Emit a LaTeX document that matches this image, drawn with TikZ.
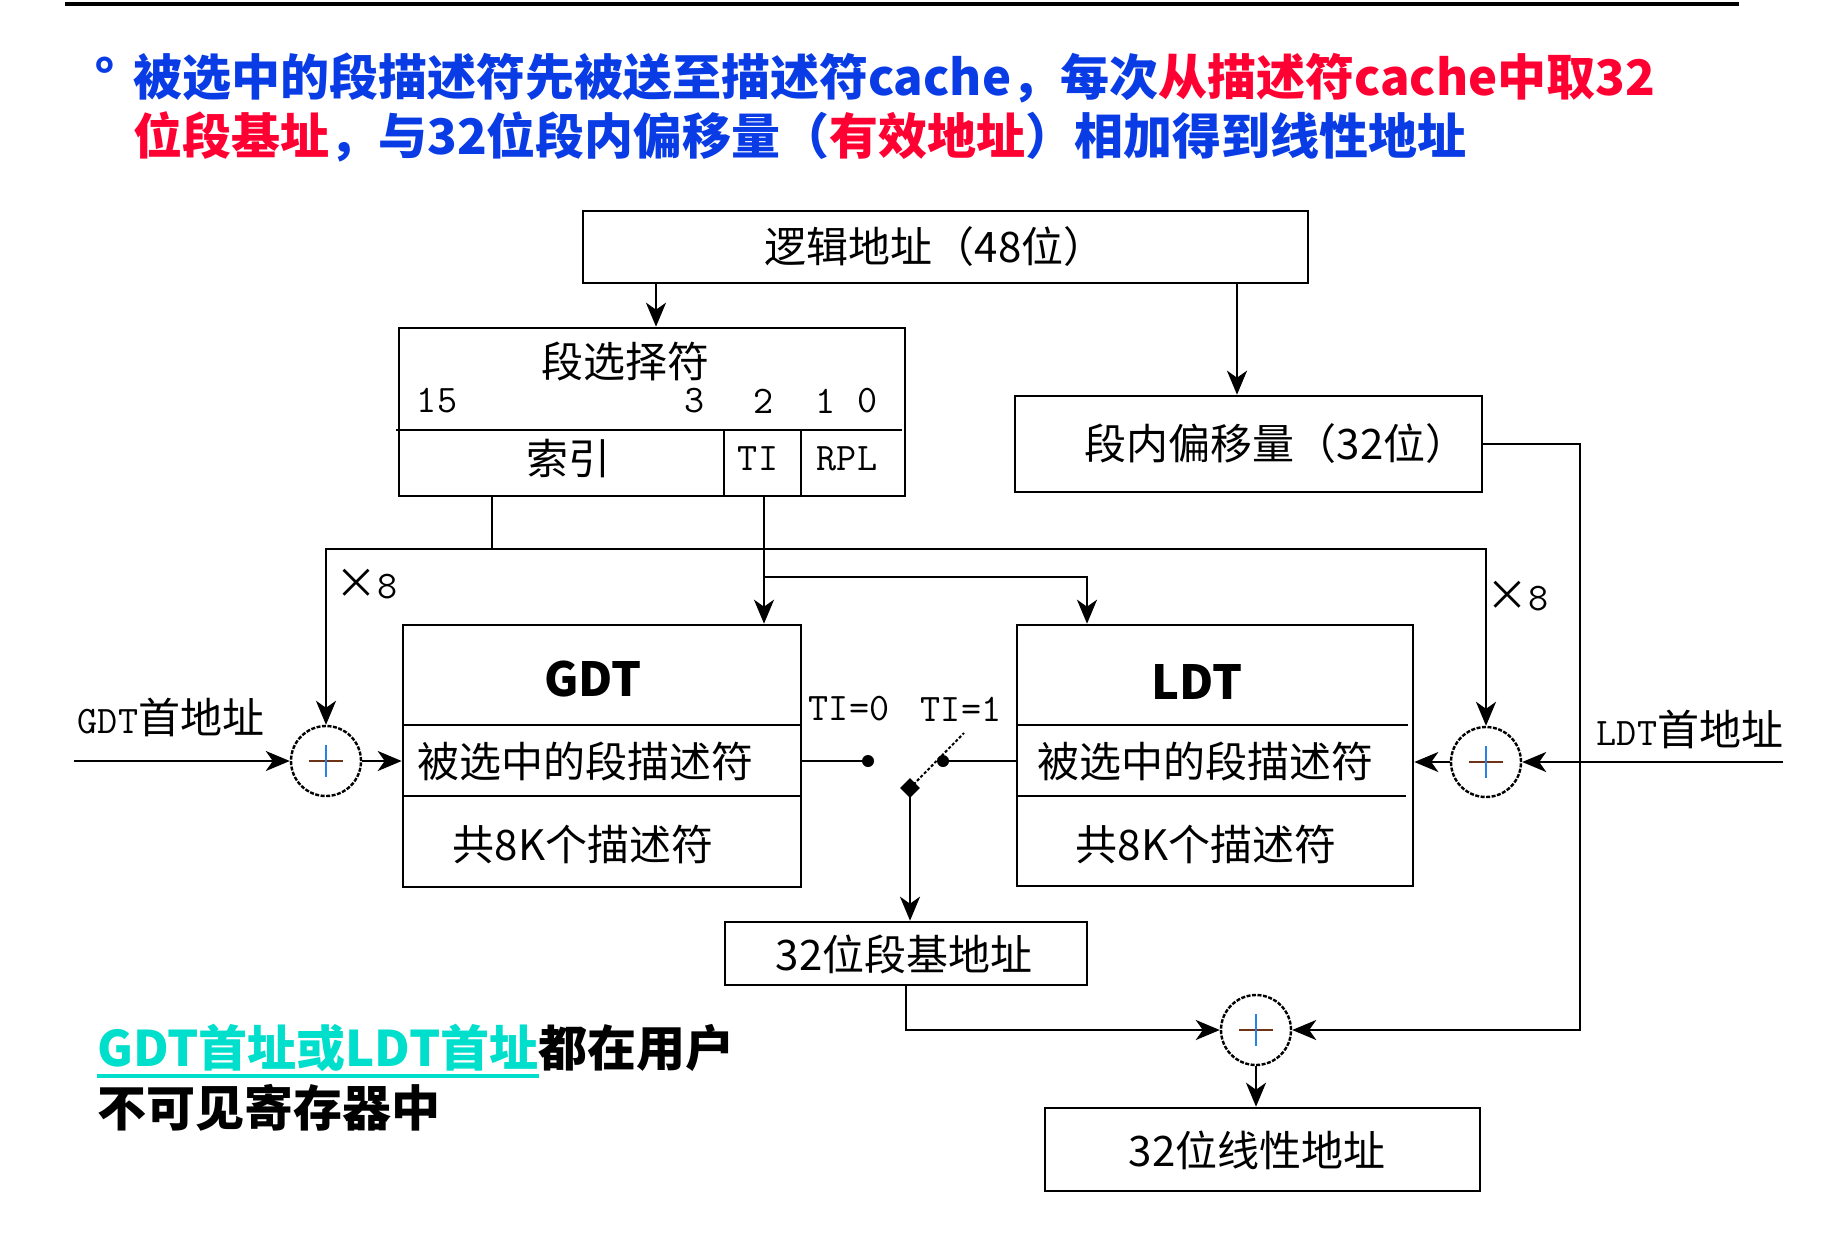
\documentclass[tikz,border=0pt]{standalone}
\usepackage{fontspec}
\setmainfont{Noto Sans CJK SC}
\newfontfamily\cjk{Noto Sans CJK SC}
\usetikzlibrary{arrows.meta,calc,shapes.geometric}
\definecolor{tblue}{RGB}{10,60,230}
\definecolor{tred}{RGB}{255,0,51}
\definecolor{tteal}{RGB}{0,222,204}
\definecolor{plusv}{RGB}{40,130,230}
\definecolor{plush}{RGB}{110,50,20}
\newcommand\lblfont{\cjk\fontsize{42}{46}\selectfont}
\newcommand\latfont{\ttfamily\fontsize{39}{42}\selectfont}
\newcommand\bigfont{\cjk\bfseries\fontsize{49}{55}\selectfont}
\newcommand\plusmark[1]{%
  \draw[plush, line width=2.6pt] ($(#1)+(-17,0)$) -- ($(#1)+(17,0)$);
  \draw[plusv, line width=2.6pt] ($(#1)+(0,-16)$) -- ($(#1)+(0,16)$);}
\tikzset{
  boxnode/.style={draw, line width=2.6pt, inner sep=0pt, rectangle},
  lbl/.style={font=\lblfont, inner sep=0pt},
  lat/.style={font=\latfont, inner sep=0pt},
  gl/.style={font=\cjk\bfseries\fontsize{47}{50}\selectfont, inner sep=0pt},
  wire/.style={line width=2.5pt},
  arr/.style={line width=2.5pt, -{Stealth[length=24pt,width=20pt,inset=7pt]}},
  adder/.style={circle, draw, line width=2.4pt, dash pattern=on 4pt off 1.5pt, minimum size=70pt, inner sep=0pt},
  dotnode/.style={circle, fill, minimum size=12pt, inner sep=0pt},
  pivnode/.style={diamond, fill, minimum size=20pt, inner sep=0pt},
  ttl/.style={font=\bigfont, inner sep=0pt, anchor=base west}
}
\begin{document}
\begin{tikzpicture}[x=1pt,y=-1pt]
\fill[white] (0,0) rectangle (1846,1232);
\useasboundingbox (0,0) rectangle (1846,1232);

% top rule
\draw[line width=4.5pt] (65,4) -- (1739,4);

% title
\node[font=\bigfont, inner sep=0pt, text=tblue, anchor=base west] (bul) at (94,95) {°};
\node[ttl] (t1) at (133,95) {\textcolor{tblue}{被选中的段描述符先被送至描述符cache，每次}\textcolor{tred}{从描述符cache中取32}};
\node[ttl] (t2) at (133,154) {\textcolor{tred}{位段基址}\textcolor{tblue}{，与32位段内偏移量（}\textcolor{tred}{有效地址}\textcolor{tblue}{）相加得到线性地址}};

% logical address box
\node[boxnode, minimum width=725pt, minimum height=72pt] (la) at (945.5,247) {};
\node[lbl] (latx) at (935,247) {逻辑地址（48位）};

% selector box
\node[boxnode, minimum width=506pt, minimum height=168pt] (sel) at (652,412) {};
\draw[wire] (396,430) -- (902,430);
\draw[wire] (724,430) -- (724,496);
\draw[wire] (801,430) -- (801,496);
\node[lbl] (seltx) at (625,361) {段选择符};
\node[lat] (b15) at (437,401) {15};
\node[lat] (b3) at (695,401) {3};
\node[lat] (b2) at (764,401) {2};
\node[lat] (b1) at (826,401) {1};
\node[lat] (b0) at (868,401) {0};
\node[lbl] (idx) at (568,459) {索引};
\node[lat] (ti) at (758,459) {TI};
\node[lat] (rpl) at (847,459) {RPL};

% offset box
\node[boxnode, minimum width=467pt, minimum height=96pt] (off) at (1248.5,444) {};
\node[lbl] (offtx) at (1276,444) {段内偏移量（32位）};

% GDT box
\node[boxnode, minimum width=398pt, minimum height=262pt] (gdt) at (602,756) {};
\draw[wire] (403,725) -- (801,725);
\draw[wire] (403,796) -- (801,796);
\node[gl] (gdttx) at (593,679) {GDT};
\node[lbl] (gsel) at (585,761) {被选中的段描述符};
\node[lbl] (gall) at (583,844) {共8K个描述符};

% LDT box
\node[boxnode, minimum width=396pt, minimum height=261pt] (ldt) at (1215,755.5) {};
\draw[wire] (1017,725) -- (1408,725);
\draw[wire] (1017,796) -- (1406,796);
\node[gl] (ldttx) at (1197,682) {LDT};
\node[lbl] (lsel) at (1205,761) {被选中的段描述符};
\node[lbl] (lall) at (1206,844) {共8K个描述符};

% adders
\node[adder] (ga) at (326,761) {};
\node[adder] (lad) at (1486,762) {};
\node[adder] (fa) at (1256,1030) {};
\plusmark{ga}
\plusmark{lad}
\plusmark{fa}

% base / linear boxes
\node[boxnode, minimum width=362pt, minimum height=63pt] (base) at (906,953.5) {};
\node[lbl] (basetx) at (904,954) {32位段基地址};
\node[boxnode, minimum width=435pt, minimum height=83pt] (lin) at (1262.5,1149.5) {};
\node[lbl] (lintx) at (1257,1150) {32位线性地址};

% labels
\node[inner sep=0pt] (gaddr) at (171,717) {\latfont GDT\lblfont 首地址};
\node[inner sep=0pt] (laddr) at (1690,729) {\latfont LDT\lblfont 首地址};
\node[inner sep=0pt] (x8l) at (367,584) {\lblfont ×\latfont 8};
\node[inner sep=0pt] (x8r) at (1518,596) {\lblfont ×\latfont 8};
\node[lat] (ti0) at (849,709) {TI=0};
\node[lat] (ti1) at (961,709) {TI=1};

% coordinates
\coordinate (cA) at (656,0);
\coordinate (cB) at (1237,0);
\coordinate (cIdx) at (492,0);
\coordinate (cTI) at (764,0);
\coordinate (cL) at (1087,0);
\coordinate (cO) at (1580,0);
\coordinate (jIdx) at (492,549);
\coordinate (jL) at (326,549);
\coordinate (jR) at (1486,549);
\coordinate (jTI) at (764,577);
\coordinate (gin) at (74,761);
\coordinate (lin0) at (1783,762);
\coordinate (lev) at (964,733);

% switch
\node[dotnode] (d0) at (868,761) {};
\node[dotnode] (d1) at (943,761) {};
\node[pivnode] (piv) at (910,788) {};

% connectors
\draw[arr] (la.south -| cA) -- (sel.north -| cA);
\draw[arr] (la.south -| cB) -- (off.north -| cB);
\draw[wire] (sel.south -| cIdx) -- (jIdx);
\draw[arr] (jIdx) -- (jL) -- (ga.north);
\draw[arr] (jIdx) -- (jR) -- (lad.north);
\draw[arr] (sel.south -| cTI) -- (gdt.north -| cTI);
\draw[arr] (jTI) -- (jTI -| cL) -- (ldt.north -| cL);
\draw[arr] (gin) -- (ga.west);
\draw[arr] (ga.east) -- (gdt.west |- ga.east);
\draw[arr] (lin0) -- (lad.east);
\draw[arr] (lad.west) -- (ldt.east |- lad.west);
\draw[wire] (gdt.east |- d0) -- (d0.center);
\draw[wire] (d1.center) -- (ldt.west |- d1);
\draw[line width=2pt, dash pattern=on 3pt off 2pt] (piv.center) -- (lev);
\draw[arr] (piv.center) -- (base.north -| piv);
\draw[arr] (base.south) |- (fa.west);
\draw[arr] (off.east) -| (fa.east -| cO) -- (fa.east);
\draw[arr] (fa.south) -- (lin.north -| fa.south);

% bottom-left note
\node[ttl, text=tteal] (n1a) at (97,1066) {GDT首址或LDT首址};
\node[ttl] (n1b) at (n1a.base east) {都在用户};
\node[ttl] (n2) at (97,1126) {不可见寄存器中};
\draw[tteal, line width=4pt] ($(n1a.base west)+(0,10)$) -- ($(n1a.base east)+(0,10)$);
\end{tikzpicture}
\end{document}
